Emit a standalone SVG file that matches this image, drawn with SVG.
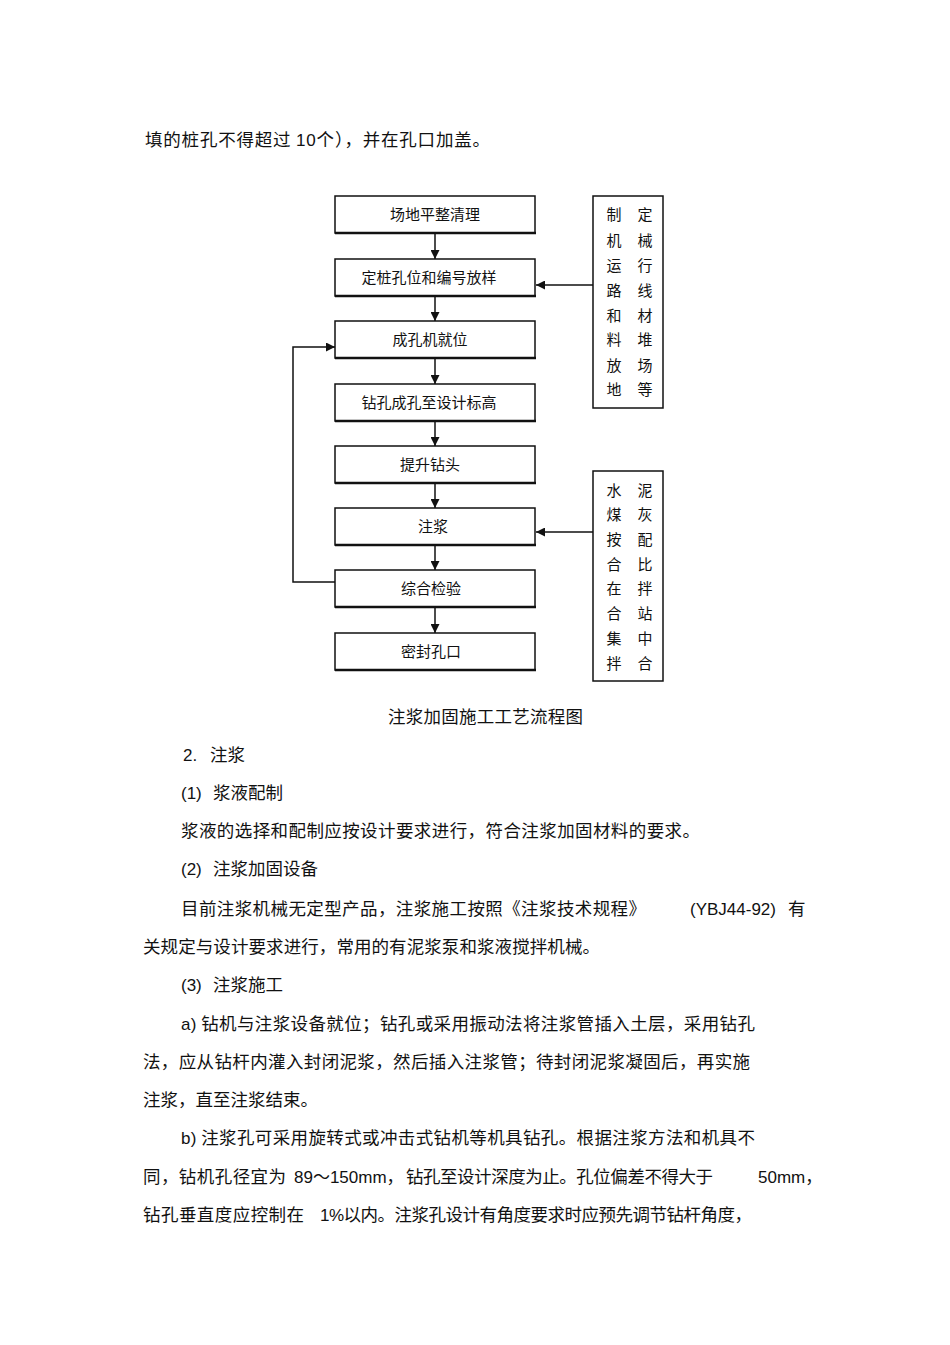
<svg xmlns="http://www.w3.org/2000/svg" width="950" height="1345" viewBox="0 0 950 1345">
<defs>
<style>
.t{font-family:"Noto Sans CJK SC","Liberation Sans",sans-serif;font-size:17.5px;fill:#111;}
.l{font-family:"Liberation Sans","Noto Sans CJK SC",sans-serif;font-size:17px;fill:#111;}
.b{font-family:"Noto Sans CJK SC",sans-serif;font-size:15px;fill:#111;text-anchor:middle;}
.box{fill:#fff;stroke:#111;stroke-width:1.5;}
.sh{stroke:#111;stroke-width:2.5;}
.c{fill:none;stroke:#111;stroke-width:1.5;}
</style>
<marker id="ah" viewBox="0 0 10 10" refX="10" refY="5" markerWidth="9" markerHeight="9" markerUnits="userSpaceOnUse" orient="auto">
<path d="M0,0 L10,5 L0,10 z" fill="#111"/>
</marker>
</defs>
<rect width="950" height="1345" fill="#fff"/>

<text class="t" x="145" y="146" textLength="345" lengthAdjust="spacing">填的桩孔不得超过 <tspan class="l">10</tspan>个），并在孔口加盖。</text>

<g id="connectors">
<line class="c" x1="435" y1="233" x2="435" y2="259" marker-end="url(#ah)"/>
<line class="c" x1="435" y1="297" x2="435" y2="321" marker-end="url(#ah)"/>
<line class="c" x1="435" y1="358" x2="435" y2="384" marker-end="url(#ah)"/>
<line class="c" x1="435" y1="421" x2="435" y2="446" marker-end="url(#ah)"/>
<line class="c" x1="435" y1="483" x2="435" y2="508" marker-end="url(#ah)"/>
<line class="c" x1="435" y1="545" x2="435" y2="570" marker-end="url(#ah)"/>
<line class="c" x1="435" y1="607" x2="435" y2="633" marker-end="url(#ah)"/>
<line class="c" x1="593" y1="285" x2="536" y2="285" marker-end="url(#ah)"/>
<line class="c" x1="593" y1="532" x2="536" y2="532" marker-end="url(#ah)"/>
<polyline class="c" points="335,582 293,582 293,347 335,347" marker-end="url(#ah)"/>
</g>

<g id="n1"><rect class="box" x="335" y="196" width="200" height="37"/><line class="sh" x1="335" y1="233" x2="536" y2="233"/><text class="b" x="435" y="220">场地平整清理</text></g>
<g id="n2"><rect class="box" x="335" y="259" width="200" height="37"/><line class="sh" x1="335" y1="296" x2="536" y2="296"/><text class="b" x="429" y="283">定桩孔位和编号放样</text></g>
<g id="n3"><rect class="box" x="335" y="321" width="200" height="37"/><line class="sh" x1="335" y1="358" x2="536" y2="358"/><text class="b" x="430" y="345">成孔机就位</text></g>
<g id="n4"><rect class="box" x="335" y="384" width="200" height="37"/><line class="sh" x1="335" y1="421" x2="536" y2="421"/><text class="b" x="429" y="408">钻孔成孔至设计标高</text></g>
<g id="n5"><rect class="box" x="335" y="446" width="200" height="37"/><line class="sh" x1="335" y1="483" x2="536" y2="483"/><text class="b" x="430" y="470">提升钻头</text></g>
<g id="n6"><rect class="box" x="335" y="508" width="200" height="37"/><line class="sh" x1="335" y1="545" x2="536" y2="545"/><text class="b" x="433" y="532">注浆</text></g>
<g id="n7"><rect class="box" x="335" y="570" width="200" height="37"/><line class="sh" x1="335" y1="607" x2="536" y2="607"/><text class="b" x="431" y="594">综合检验</text></g>
<g id="n8"><rect class="box" x="335" y="633" width="200" height="37"/><line class="sh" x1="335" y1="670" x2="536" y2="670"/><text class="b" x="431" y="657">密封孔口</text></g>

<g id="r1"><rect class="box" x="593" y="196" width="70" height="212"/>
<text class="b" x="614" y="220">制</text><text class="b" x="645" y="220">定</text>
<text class="b" x="614" y="246">机</text><text class="b" x="645" y="246">械</text>
<text class="b" x="614" y="271">运</text><text class="b" x="645" y="271">行</text>
<text class="b" x="614" y="296">路</text><text class="b" x="645" y="296">线</text>
<text class="b" x="614" y="321">和</text><text class="b" x="645" y="321">材</text>
<text class="b" x="614" y="345">料</text><text class="b" x="645" y="345">堆</text>
<text class="b" x="614" y="371">放</text><text class="b" x="645" y="371">场</text>
<text class="b" x="614" y="395">地</text><text class="b" x="645" y="395">等</text>
</g>
<g id="r2"><rect class="box" x="593" y="471" width="70" height="210"/>
<text class="b" x="614" y="496">水</text><text class="b" x="645" y="496">泥</text>
<text class="b" x="614" y="520">煤</text><text class="b" x="645" y="520">灰</text>
<text class="b" x="614" y="545">按</text><text class="b" x="645" y="545">配</text>
<text class="b" x="614" y="570">合</text><text class="b" x="645" y="570">比</text>
<text class="b" x="614" y="594">在</text><text class="b" x="645" y="594">拌</text>
<text class="b" x="614" y="619">合</text><text class="b" x="645" y="619">站</text>
<text class="b" x="614" y="644">集</text><text class="b" x="645" y="644">中</text>
<text class="b" x="614" y="669">拌</text><text class="b" x="645" y="669">合</text>
</g>

<text class="t" x="388" y="723" textLength="195" lengthAdjust="spacing">注浆加固施工工艺流程图</text>
<text class="t" x="183" y="761"><tspan class="l">2.</tspan><tspan x="210">注浆</tspan></text>
<text class="t" x="181" y="799"><tspan class="l">(1)</tspan><tspan x="213">浆液配制</tspan></text>
<text class="t" x="181" y="837" textLength="519" lengthAdjust="spacing">浆液的选择和配制应按设计要求进行，符合注浆加固材料的要求。</text>
<text class="t" x="181" y="875"><tspan class="l">(2)</tspan><tspan x="213">注浆加固设备</tspan></text>
<text class="t" x="181" y="915" textLength="465" lengthAdjust="spacing">目前注浆机械无定型产品，注浆施工按照《注浆技术规程》</text>
<text class="t" x="690" y="915"><tspan class="l">(YBJ44-92)</tspan><tspan x="788">有</tspan></text>
<text class="t" x="143" y="953" textLength="457" lengthAdjust="spacing">关规定与设计要求进行，常用的有泥浆泵和浆液搅拌机械。</text>
<text class="t" x="181" y="991"><tspan class="l">(3)</tspan><tspan x="213">注浆施工</tspan></text>
<text class="t" x="181" y="1030" textLength="574" lengthAdjust="spacing"><tspan class="l">a)</tspan> 钻机与注浆设备就位；钻孔或采用振动法将注浆管插入土层，采用钻孔</text>
<text class="t" x="143" y="1068" textLength="607" lengthAdjust="spacing">法，应从钻杆内灌入封闭泥浆，然后插入注浆管；待封闭泥浆凝固后，再实施</text>
<text class="t" x="143" y="1106">注浆，直至注浆结束。</text>
<text class="t" x="181" y="1144" textLength="574" lengthAdjust="spacing"><tspan class="l">b)</tspan> 注浆孔可采用旋转式或冲击式钻机等机具钻孔。根据注浆方法和机具不</text>
<text class="t" x="143" y="1183" textLength="143" lengthAdjust="spacing">同，钻机孔径宜为</text>
<text class="l" x="294" y="1183">89～150mm，</text>
<text class="t" x="406" y="1183" textLength="307" lengthAdjust="spacing">钻孔至设计深度为止。孔位偏差不得大于</text>
<text class="l" x="758" y="1183">50mm，</text>
<text class="t" x="143" y="1221" textLength="161" lengthAdjust="spacing">钻孔垂直度应控制在</text>
<text class="t" x="320" y="1221" textLength="432" lengthAdjust="spacing"><tspan class="l">1%</tspan>以内。注浆孔设计有角度要求时应预先调节钻杆角度，</text>
</svg>
